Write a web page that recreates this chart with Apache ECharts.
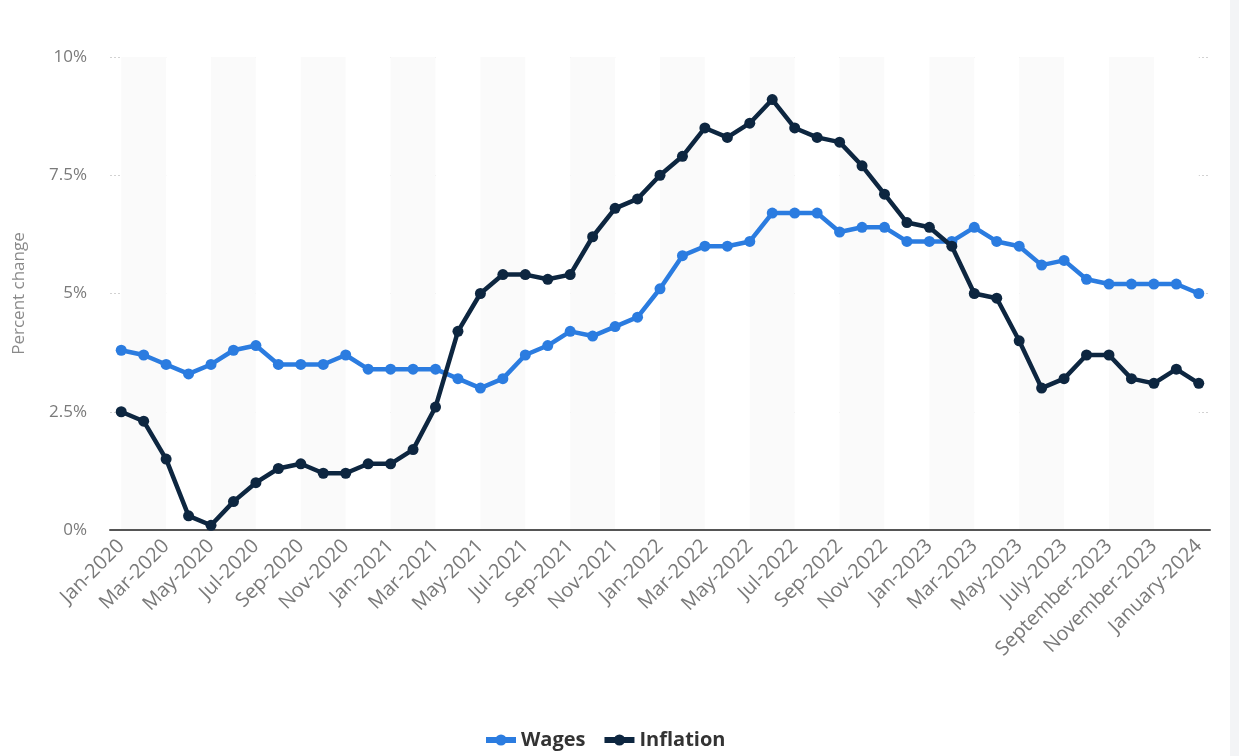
<!DOCTYPE html>
<html>
<head>
<meta charset="utf-8">
<script src="https://cdn.jsdelivr.net/npm/echarts@6/dist/echarts.min.js"></script>
<style>
html,body{margin:0;padding:0;background:#fff;}
#chart{width:1239px;height:756px;}
</style>
</head>
<body>
<div id="chart"></div>
<script>
const months = [
  'Jan-2020','Feb-2020','Mar-2020','Apr-2020','May-2020','Jun-2020','Jul-2020','Aug-2020','Sep-2020','Oct-2020','Nov-2020','Dec-2020',
  'Jan-2021','Feb-2021','Mar-2021','Apr-2021','May-2021','Jun-2021','Jul-2021','Aug-2021','Sep-2021','Oct-2021','Nov-2021','Dec-2021',
  'Jan-2022','Feb-2022','Mar-2022','Apr-2022','May-2022','Jun-2022','Jul-2022','Aug-2022','Sep-2022','Oct-2022','Nov-2022','Dec-2022',
  'Jan-2023','Feb-2023','Mar-2023','Apr-2023','May-2023','June-2023','July-2023','August-2023','September-2023','October-2023','November-2023','December-2023',
  'January-2024'
];
const wages = [
  3.8,3.7,3.5,3.3,3.5,3.8,3.9,3.5,3.5,3.5,3.7,3.4,
  3.4,3.4,3.4,3.2,3.0,3.2,3.7,3.9,4.2,4.1,4.3,4.5,
  5.1,5.8,6.0,6.0,6.1,6.7,6.7,6.7,6.3,6.4,6.4,6.1,
  6.1,6.1,6.4,6.1,6.0,5.6,5.7,5.3,5.2,5.2,5.2,5.2,
  5.0
];
const inflation = [
  2.5,2.3,1.5,0.3,0.1,0.6,1.0,1.3,1.4,1.2,1.2,1.4,
  1.4,1.7,2.6,4.2,5.0,5.4,5.4,5.3,5.4,6.2,6.8,7.0,
  7.5,7.9,8.5,8.3,8.6,9.1,8.5,8.3,8.2,7.7,7.1,6.5,
  6.4,6.0,5.0,4.9,4.0,3.0,3.2,3.7,3.7,3.2,3.1,3.4,
  3.1
];
const yTicks = {0:'0%',2.5:'2.5%',5:'5%',7.5:'7.5%',10:'10%'};

const chart = echarts.init(document.getElementById('chart'), null, {renderer:'canvas'});
const font = '"Open Sans", "Noto Sans", sans-serif';
chart.setOption({
  animation:false,
  textStyle:{fontFamily:font},
  graphic:[{type:'rect',shape:{x:1230,y:0,width:9,height:756},style:{fill:'#f3f4f6'},silent:true,z:-10}],
  grid:{left:110,right:29,top:57,bottom:226},
  legend:{
    top:730,left:483,padding:0,
    itemWidth:30,itemHeight:14,itemGap:16,
    lineStyle:{width:6},
    textStyle:{fontSize:20,fontWeight:'bold',color:'#333',fontFamily:font},
    data:['Wages','Inflation']
  },
  xAxis:{
    type:'category',
    data:months,
    boundaryGap:true,
    axisLine:{lineStyle:{color:'#555',width:2}},
    axisTick:{show:false},
    axisLabel:{interval:1,rotate:45,color:'#7a7a7a',fontSize:20,margin:13,fontFamily:font},
    splitArea:{show:true,interval:1,alignWithLabel:true,areaStyle:{color:['#fafafa','#ffffff']}},
    splitLine:{show:false}
  },
  yAxis:{
    type:'value',
    min:0,max:10,interval:2.5,
    name:'Percent change',
    nameLocation:'middle',
    nameGap:82,
    nameTextStyle:{color:'#8a8a8a',fontSize:17,fontFamily:font},
    axisLine:{show:false},
    axisTick:{show:false},
    axisLabel:{color:'#7a7a7a',fontSize:17,margin:23,fontFamily:font,formatter:v=>yTicks[v]!==undefined?yTicks[v]:''},
    splitLine:{lineStyle:{color:'#d2d2d2',type:[2,2],width:1}}
  },
  series:[
    {name:'Wages',type:'line',data:wages,symbol:'circle',symbolSize:11,
     lineStyle:{width:4.5,color:'#2b7ce0'},itemStyle:{color:'#2b7ce0'},z:2},
    {name:'Inflation',type:'line',data:inflation,symbol:'circle',symbolSize:11,
     lineStyle:{width:4.5,color:'#0d2640'},itemStyle:{color:'#0d2640'},z:3}
  ]
});
</script>
</body>
</html>
